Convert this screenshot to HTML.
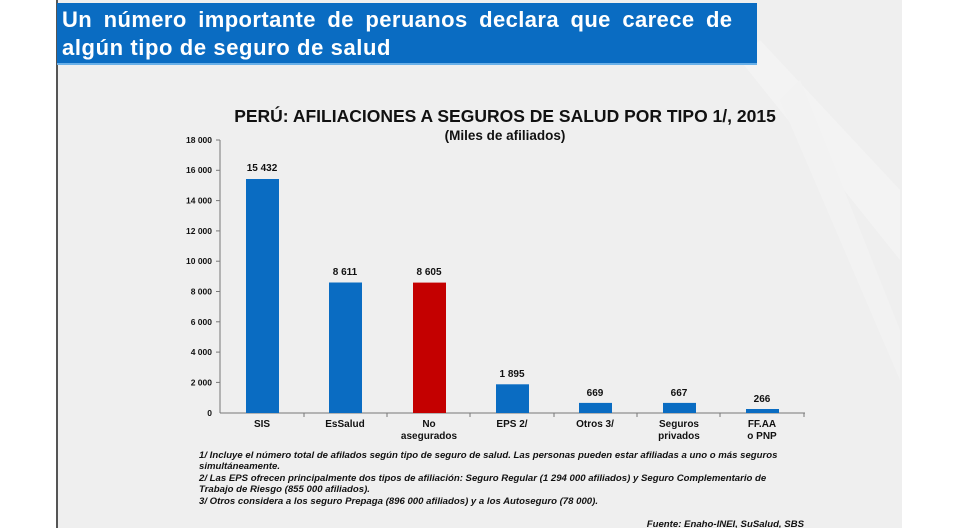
<!DOCTYPE html>
<html><head><meta charset="utf-8"><style>
body{margin:0;width:980px;height:528px;overflow:hidden;background:#fff;font-family:"Liberation Sans",Arial,sans-serif;}
#bg{position:absolute;left:56px;top:0;width:844px;height:528px;background:#efefef;border-left:2px solid #555;}
#ban{position:absolute;left:57px;top:3px;width:700px;height:62px;background:#0a6cc2;color:#fff;font-weight:bold;font-size:22px;line-height:28px;padding:3px 0 0 5px;box-sizing:border-box;border-bottom:2px solid #6ab0e8;}
.t{position:absolute;font-weight:bold;color:#111;}
</style></head><body>
<div id="bg"></div>
<svg style="position:absolute;left:740px;top:0" width="160" height="528"><polygon points="20,40 160,190 160,260 0,60" fill="#f3f3f3"/><polygon points="60,80 160,330 160,380 40,100" fill="#f2f2f2"/></svg>
<div id="ban"><span style="letter-spacing:0.4px;word-spacing:5px">Un número importante de peruanos declara que carece de</span><br><span style="letter-spacing:0.6px">algún tipo de seguro de salud</span></div>
<div class="t" style="left:0;width:1010px;text-align:center;top:106px;font-size:17.5px">PERÚ: AFILIACIONES A SEGUROS DE SALUD POR TIPO 1/, 2015</div>
<div class="t" style="left:0;width:1010px;text-align:center;top:128px;font-size:13.5px">(Miles de afiliados)</div>
<svg style="position:absolute;left:0;top:0" width="980" height="528" font-family="Liberation Sans,Arial,sans-serif" font-weight="bold" font-size="9" fill="#111">
<g stroke="#777" stroke-width="1"><line x1="220" y1="140" x2="220" y2="413"/><line x1="220" y1="413" x2="805" y2="413"/>
<line x1="216" y1="140" x2="220" y2="140"/><line x1="216" y1="170.3" x2="220" y2="170.3"/><line x1="216" y1="200.6" x2="220" y2="200.6"/><line x1="216" y1="230.9" x2="220" y2="230.9"/><line x1="216" y1="261.2" x2="220" y2="261.2"/><line x1="216" y1="291.5" x2="220" y2="291.5"/><line x1="216" y1="321.8" x2="220" y2="321.8"/><line x1="216" y1="352.1" x2="220" y2="352.1"/><line x1="216" y1="382.4" x2="220" y2="382.4"/>
<line x1="304" y1="413" x2="304" y2="417"/><line x1="387" y1="413" x2="387" y2="417"/><line x1="470" y1="413" x2="470" y2="417"/><line x1="554" y1="413" x2="554" y2="417"/><line x1="637" y1="413" x2="637" y2="417"/><line x1="720" y1="413" x2="720" y2="417"/><line x1="804" y1="413" x2="804" y2="417"/></g>
<g text-anchor="end" font-size="8.5"><text x="212" y="143">18 000</text><text x="212" y="173">16 000</text><text x="212" y="203.5">14 000</text><text x="212" y="234">12 000</text><text x="212" y="264">10 000</text><text x="212" y="294.5">8 000</text><text x="212" y="325">6 000</text><text x="212" y="355">4 000</text><text x="212" y="385.5">2 000</text><text x="212" y="416">0</text></g>
<rect x="246" y="179" width="33" height="234" fill="#0a6cc2"/>
<rect x="329" y="282.5" width="33" height="130.5" fill="#0a6cc2"/>
<rect x="413" y="282.6" width="33" height="130.4" fill="#c40000"/>
<rect x="496" y="384.3" width="33" height="28.7" fill="#0a6cc2"/>
<rect x="579" y="402.9" width="33" height="10.1" fill="#0a6cc2"/>
<rect x="663" y="402.9" width="33" height="10.1" fill="#0a6cc2"/>
<rect x="746" y="409" width="33" height="4" fill="#0a6cc2"/>
<g text-anchor="middle" font-size="10"><text x="262" y="171">15 432</text><text x="345" y="275">8 611</text><text x="429" y="275">8 605</text><text x="512" y="377">1 895</text><text x="595" y="396">669</text><text x="679" y="396">667</text><text x="762" y="402">266</text>
<text x="262" y="427">SIS</text><text x="345" y="427">EsSalud</text><text x="429" y="427">No</text><text x="429" y="439">asegurados</text><text x="512" y="427">EPS 2/</text><text x="595" y="427">Otros 3/</text><text x="679" y="427">Seguros</text><text x="679" y="439">privados</text><text x="762" y="427">FF.AA</text><text x="762" y="439">o PNP</text></g>
<g font-style="italic" font-size="9.6"><text x="199" y="458">1/ Incluye el número total de afilados según tipo de seguro de salud. Las personas pueden estar afiliadas a uno o más seguros</text><text x="199" y="469">simultáneamente.</text><text x="199" y="481">2/ Las EPS ofrecen principalmente dos tipos de afiliación: Seguro Regular (1 294 000 afiliados) y Seguro Complementario de</text><text x="199" y="492">Trabajo de Riesgo (855 000 afiliados).</text><text x="199" y="504">3/ Otros considera a los seguro Prepaga (896 000 afiliados) y a los Autoseguro (78 000).</text><text x="804" y="527" text-anchor="end">Fuente: Enaho-INEI, SuSalud,  SBS</text></g>
</svg>
</body></html>
